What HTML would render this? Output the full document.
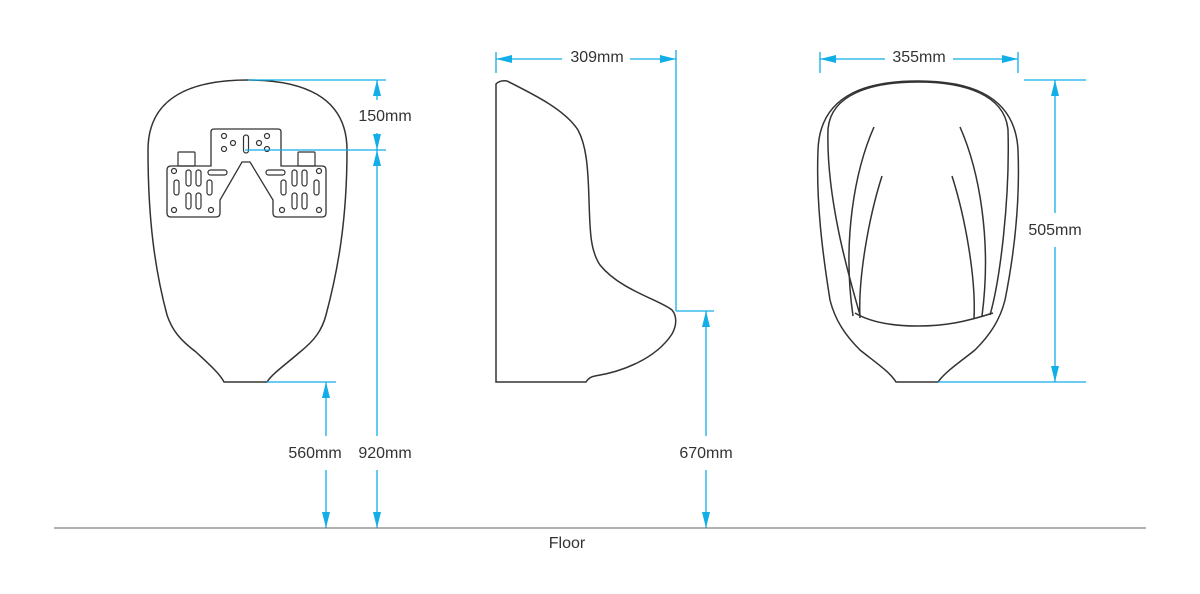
<!DOCTYPE html>
<html><head><meta charset="utf-8"><style>
html,body{margin:0;padding:0;background:#fff}
svg{display:block}
text{font-family:"Liberation Sans",sans-serif;font-size:16px;fill:#333}
</style></head><body>
<svg width="1200" height="594" viewBox="0 0 1200 594" xmlns="http://www.w3.org/2000/svg">
<defs>
<marker id="a" viewBox="0 0 16 8" refX="16" refY="4" markerWidth="16" markerHeight="8" markerUnits="userSpaceOnUse" orient="auto"><path d="M0,0 L16,4 L0,8 Z" fill="#12aee8"/></marker>
</defs>
<g fill="none" stroke="#333" stroke-width="1.5">
<path d="M224,382 L267,382 C272,374 285,365 300,352 C315,340 322,330 326,315 C338,270 347,220 347,150 C347,95 300,80 248,80 C195,80 148,95 148,150 C148,220 155,270 167,315 C172,330 180,340 196,352 C210,365 220,374 224,382 Z"/>
<path d="M211,166 L211,132 Q211,129 214,129 L278,129 Q281,129 281,132 L281,166 L322,166 Q326,166 326,170 L326,213 Q326,217 322,217 L277,217 Q273,217 273,213 L273,200 L250,162 L242,162 L220,200 L220,213 Q220,217 216,217 L171,217 Q167,217 167,213 L167,170 Q167,166 171,166 Z" stroke-width="1.3"/>
<g stroke-width="1.2">
<rect x="178" y="152" width="17" height="14" rx="1"/>
<rect x="298" y="152" width="17" height="14" rx="1"/>
<circle cx="224" cy="136" r="2.5"/><circle cx="233" cy="143" r="2.5"/><circle cx="224" cy="149" r="2.5"/>
<circle cx="267" cy="136" r="2.5"/><circle cx="259" cy="143" r="2.5"/><circle cx="267" cy="149" r="2.5"/>
<rect x="243.5" y="135" width="5" height="18" rx="2.5"/>
<g id="w">
<circle cx="174" cy="171" r="2.5"/><circle cx="174" cy="210" r="2.5"/><circle cx="211" cy="210" r="2.5"/>
<rect x="174" y="180" width="5" height="15" rx="2.5"/>
<rect x="186" y="170" width="5" height="16" rx="2.5"/><rect x="196" y="170" width="5" height="16" rx="2.5"/>
<rect x="186" y="193" width="5" height="16" rx="2.5"/><rect x="196" y="193" width="5" height="16" rx="2.5"/>
<rect x="207" y="180" width="5" height="15" rx="2.5"/>
<rect x="208" y="170" width="19" height="5" rx="2.5"/>
</g>
<use href="#w" transform="translate(493,0) scale(-1,1)"/>
</g>
<path d="M496,382 L496,84 Q500,80 507,81 C535,95 565,110 578,130 C586,145 588,165 589,200 C590,230 590,250 600,265 C620,290 660,300 672,310 C677,316 677,325 672,334 C655,360 620,372 595,376 Q589,377 586,382 Z"/>
<path d="M896,382 L938,382 C945,372 960,362 975,350 C990,335 1000,320 1005,300 C1015,250 1020,200 1018,150 C1015,90 960,81 918,81 C875,81 820,90 818,150 C816,200 822,250 830,300 C835,320 845,335 860,350 C875,362 890,372 896,382 Z"/>
<path d="M860,315 C850,280 826,200 828,130 C830,95 870,82 918,82 C965,82 1005,95 1008,130 C1010,200 1000,280 990,315"/>
<path d="M855,313 C870,322 890,326 918,326 C945,326 965,322 993,313"/>
<path d="M874,127 C855,170 842,240 853,316"/>
<path d="M882,176 C868,220 858,280 860,318"/>
<path d="M960,127 C979,170 992,240 982,316"/>
<path d="M952,176 C966,220 976,280 974,318"/>
</g>
<g stroke="#12aee8" stroke-width="1.3" fill="none">
<line x1="248" y1="80" x2="386" y2="80"/>
<line x1="245" y1="150" x2="386" y2="150"/>
<line x1="377" y1="100" x2="377" y2="80" marker-end="url(#a)"/>
<line x1="377" y1="133" x2="377" y2="150" marker-end="url(#a)"/>
<line x1="377" y1="436" x2="377" y2="150" marker-end="url(#a)"/>
<line x1="377" y1="470" x2="377" y2="528" marker-end="url(#a)"/>
<line x1="267" y1="382" x2="336" y2="382"/>
<line x1="326" y1="436" x2="326" y2="382" marker-end="url(#a)"/>
<line x1="326" y1="470" x2="326" y2="528" marker-end="url(#a)"/>
<line x1="496" y1="52" x2="496" y2="73"/>
<line x1="676" y1="50" x2="676" y2="311"/>
<line x1="562" y1="59" x2="496" y2="59" marker-end="url(#a)"/>
<line x1="630" y1="59" x2="676" y2="59" marker-end="url(#a)"/>
<line x1="676" y1="311" x2="714" y2="311"/>
<line x1="706" y1="436" x2="706" y2="311" marker-end="url(#a)"/>
<line x1="706" y1="470" x2="706" y2="528" marker-end="url(#a)"/>
<line x1="820" y1="52" x2="820" y2="73"/>
<line x1="1018" y1="52" x2="1018" y2="73"/>
<line x1="885" y1="59" x2="820" y2="59" marker-end="url(#a)"/>
<line x1="953" y1="59" x2="1018" y2="59" marker-end="url(#a)"/>
<line x1="1024" y1="80" x2="1086" y2="80"/>
<line x1="938" y1="382" x2="1086" y2="382"/>
<line x1="1055" y1="213" x2="1055" y2="80" marker-end="url(#a)"/>
<line x1="1055" y1="247" x2="1055" y2="382" marker-end="url(#a)"/>
</g>
<line x1="54" y1="528" x2="1146" y2="528" stroke="#666" stroke-width="1"/>
<text x="385" y="121" text-anchor="middle">150mm</text>
<text x="315" y="458" text-anchor="middle">560mm</text>
<text x="385" y="458" text-anchor="middle">920mm</text>
<text x="706" y="458" text-anchor="middle">670mm</text>
<text x="597" y="62" text-anchor="middle">309mm</text>
<text x="919" y="62" text-anchor="middle">355mm</text>
<text x="1055" y="235" text-anchor="middle">505mm</text>
<text x="567" y="548" text-anchor="middle">Floor</text>
</svg>
</body></html>
